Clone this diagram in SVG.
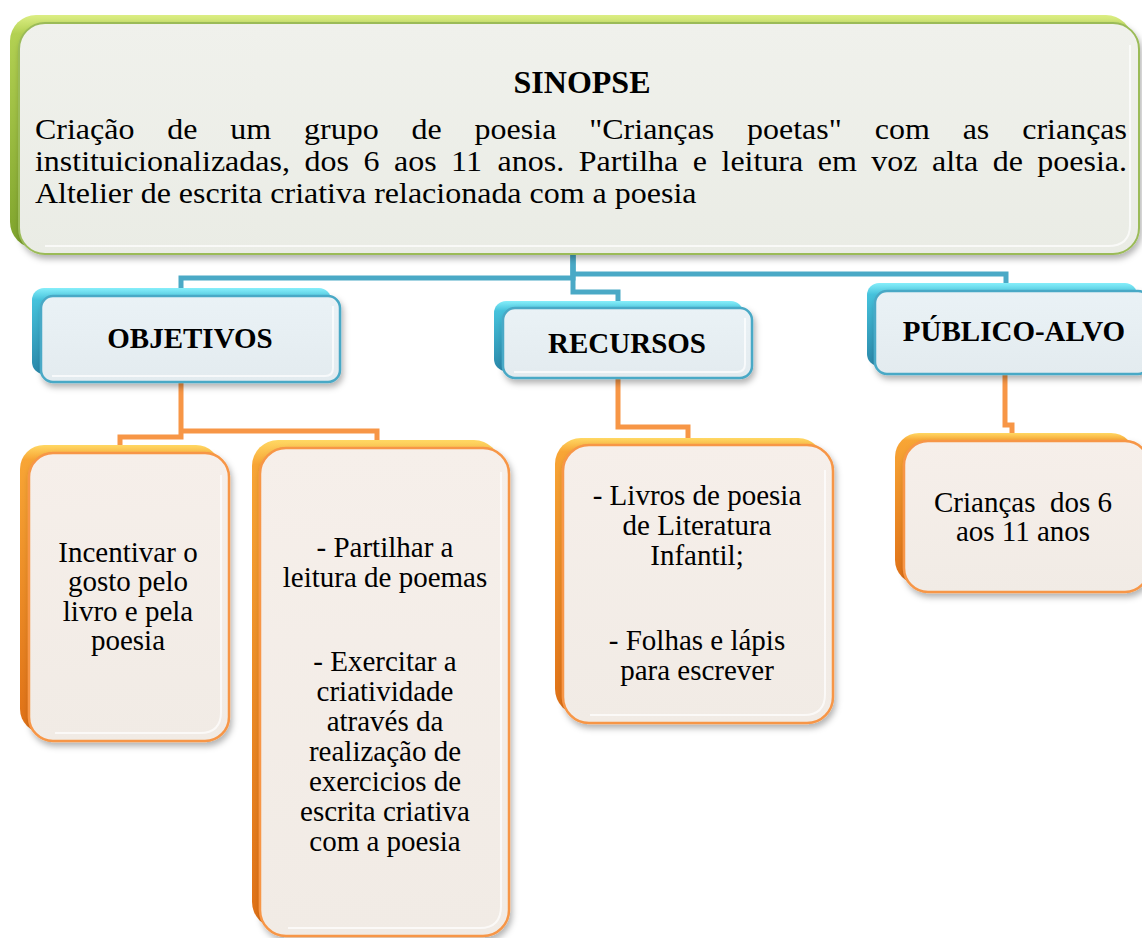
<svg xmlns="http://www.w3.org/2000/svg" width="1142" height="938" viewBox="0 0 1142 938">
<defs>
<linearGradient id="gGreen" x1="0" y1="0" x2="0" y2="1">
<stop offset="0" stop-color="#dcee84"/><stop offset="0.08" stop-color="#b3d152"/><stop offset="1" stop-color="#7ea32c"/>
</linearGradient>
<linearGradient id="gBlue" x1="0" y1="0" x2="0" y2="1">
<stop offset="0" stop-color="#86eefa"/><stop offset="0.14" stop-color="#45c2dc"/><stop offset="1" stop-color="#2a88aa"/>
</linearGradient>
<linearGradient id="gOrange" x1="0" y1="0" x2="0" y2="1">
<stop offset="0" stop-color="#ffd863"/><stop offset="0.05" stop-color="#f8a535"/><stop offset="1" stop-color="#df7016"/>
</linearGradient>
<linearGradient id="fGreen" x1="0" y1="0" x2="0" y2="1">
<stop offset="0" stop-color="#f0f1ec"/><stop offset="1" stop-color="#eaece5"/>
</linearGradient>
<linearGradient id="fBlue" x1="0" y1="0" x2="0" y2="1">
<stop offset="0" stop-color="#eaf2f6"/><stop offset="1" stop-color="#e3ebef"/>
</linearGradient>
<linearGradient id="fOrange" x1="0" y1="0" x2="0" y2="1">
<stop offset="0" stop-color="#f6efea"/><stop offset="1" stop-color="#f1ebe5"/>
</linearGradient>
<filter id="sh" x="-10%" y="-10%" width="120%" height="130%">
<feDropShadow dx="2" dy="4" stdDeviation="3" flood-color="#000" flood-opacity="0.3"/>
</filter>
</defs>
<style>
.conn{fill:none;stroke-width:5;stroke-linejoin:miter}
.cb{stroke:#4aa9c6}
.co{stroke:#f79646}
.backG{fill:url(#gGreen)}
.backB{fill:url(#gBlue)}
.backO{fill:url(#gOrange)}
.faceG{fill:url(#fGreen);stroke:#9bbb59;stroke-width:2;filter:url(#sh)}
.faceB{fill:url(#fBlue);stroke:#4aa9c6;stroke-width:2.5;filter:url(#sh)}
.faceO{fill:url(#fOrange);stroke:#f79646;stroke-width:2.5;filter:url(#sh)}
.inner{fill:none;stroke:#ffffff;stroke-opacity:0.7;stroke-width:2}
.t{font-family:"Liberation Serif","Times New Roman",serif;fill:#000}
.body{font-size:30px}
.hd{font-size:32px;font-weight:bold}
.lbl{font-size:29px;font-weight:bold}
.txt{font-size:29px;text-anchor:middle}
</style>

<g id="connectors">
<path class="conn cb" d="M573,250 V278 H181 V292"/>
<path class="conn cb" d="M573,250 V274 H1006 V287"/>
<path class="conn cb" d="M573,250 V292 H618 V304"/>
<path class="conn co" d="M181,378 V437 H120 V448"/>
<path class="conn co" d="M181,431 H377 V443"/>
<path class="conn co" d="M618,376 V427 H688 V440"/>
<path class="conn co" d="M1005,372 V425 H1012 V437"/>
</g>

<g id="sinopse">
<rect class="backG" x="10" y="15" width="1122" height="233" rx="26"/>
<rect class="faceG" x="19" y="23" width="1120" height="231" rx="26"/>
<path class="inner" d="M1130,45 V225 Q1130,246 1108,246 H45"/>
<text class="t hd" x="582" y="93" text-anchor="middle">SINOPSE</text>
<g transform="scale(1.0667,1)">
<text class="t body" y="139"><tspan x="32.81">Criação</tspan><tspan x="156.84">de</tspan><tspan x="215.91">um</tspan><tspan x="285">grupo</tspan><tspan x="385.78">de</tspan><tspan x="444.94">poesia</tspan><tspan x="552.38">"Crianças</tspan><tspan x="700.31">poetas"</tspan><tspan x="820.03">com</tspan><tspan x="902.44">as</tspan><tspan x="1056.56" text-anchor="end">crianças</tspan></text>
<text class="t body" y="171"><tspan x="32.81">instituicionalizadas,</tspan><tspan x="285.56">dos</tspan><tspan x="340.78">6</tspan><tspan x="369.38">aos</tspan><tspan x="422.91">11</tspan><tspan x="466.5">anos.</tspan><tspan x="542.63">Partilha</tspan><tspan x="649.5">e</tspan><tspan x="676.41">leitura</tspan><tspan x="766.69">em</tspan><tspan x="816.84">voz</tspan><tspan x="873.75">alta</tspan><tspan x="930.66">de</tspan><tspan x="1056.56" text-anchor="end">poesia.</tspan></text>
<text class="t body" x="32.81" y="203">Altelier de escrita criativa relacionada com a poesia</text>
</g>
</g>

<g id="objetivos">
<rect class="backB" x="32" y="288" width="299" height="86" rx="12"/>
<rect class="faceB" x="41" y="296" width="299" height="86" rx="12"/>
<path class="inner" d="M333,306 V368 Q333,376 325,376 H52"/>
<text class="t lbl" x="190" y="348" text-anchor="middle">OBJETIVOS</text>
</g>

<g id="recursos">
<rect class="backB" x="494" y="301" width="249" height="70" rx="12"/>
<rect class="faceB" x="503" y="308" width="249" height="70" rx="12"/>
<path class="inner" d="M745,318 V364 Q745,372 737,372 H514"/>
<text class="t lbl" x="627" y="353" text-anchor="middle">RECURSOS</text>
</g>

<g id="publico-alvo">
<rect class="backB" x="867" y="283" width="270" height="83" rx="12"/>
<rect class="faceB" x="875" y="291" width="275" height="83" rx="12"/>
<text class="t lbl" x="1014" y="341" text-anchor="middle">PÚBLICO-ALVO</text>
</g>

<g id="obj1">
<rect class="backO" x="20" y="445" width="200" height="288" rx="24"/>
<rect class="faceO" x="29" y="453" width="200" height="288" rx="24"/>
<path class="inner" d="M221,475 V712 Q221,733 200,733 H55"/>
<text class="t txt"><tspan x="128" y="562">Incentivar o</tspan><tspan x="128" y="591">gosto pelo</tspan><tspan x="128" y="621">livro e pela</tspan><tspan x="128" y="650">poesia</tspan></text>
</g>

<g id="obj2">
<rect class="backO" x="252" y="440" width="248" height="488" rx="26"/>
<rect class="faceO" x="260" y="448" width="249" height="488" rx="26"/>
<path class="inner" d="M501,472 V906 Q501,928 480,928 H288"/>
<text class="t txt"><tspan x="385" y="557">- Partilhar a</tspan><tspan x="385" y="587">leitura de poemas</tspan><tspan x="385" y="671">- Exercitar a</tspan><tspan x="385" y="701">criatividade</tspan><tspan x="385" y="731">através da</tspan><tspan x="385" y="761">realização de</tspan><tspan x="385" y="791">exercicios de</tspan><tspan x="385" y="821">escrita criativa</tspan><tspan x="385" y="851">com a poesia</tspan></text>
</g>

<g id="rec1">
<rect class="backO" x="555" y="438" width="269" height="277" rx="26"/>
<rect class="faceO" x="563" y="445" width="270" height="278" rx="26"/>
<path class="inner" d="M825,470 V694 Q825,715 804,715 H590"/>
<text class="t txt"><tspan x="697" y="505">- Livros de poesia</tspan><tspan x="697" y="535">de Literatura</tspan><tspan x="697" y="565">Infantil;</tspan><tspan x="697" y="650">- Folhas e lápis</tspan><tspan x="697" y="680">para escrever</tspan></text>
</g>

<g id="pub1">
<rect class="backO" x="895" y="433" width="240" height="151" rx="24"/>
<rect class="faceO" x="904" y="441" width="245" height="151" rx="24"/>
<text class="t txt" xml:space="preserve"><tspan x="1023" y="512">Crianças  dos 6</tspan><tspan x="1023" y="541">aos 11 anos</tspan></text>
</g>
</svg>
